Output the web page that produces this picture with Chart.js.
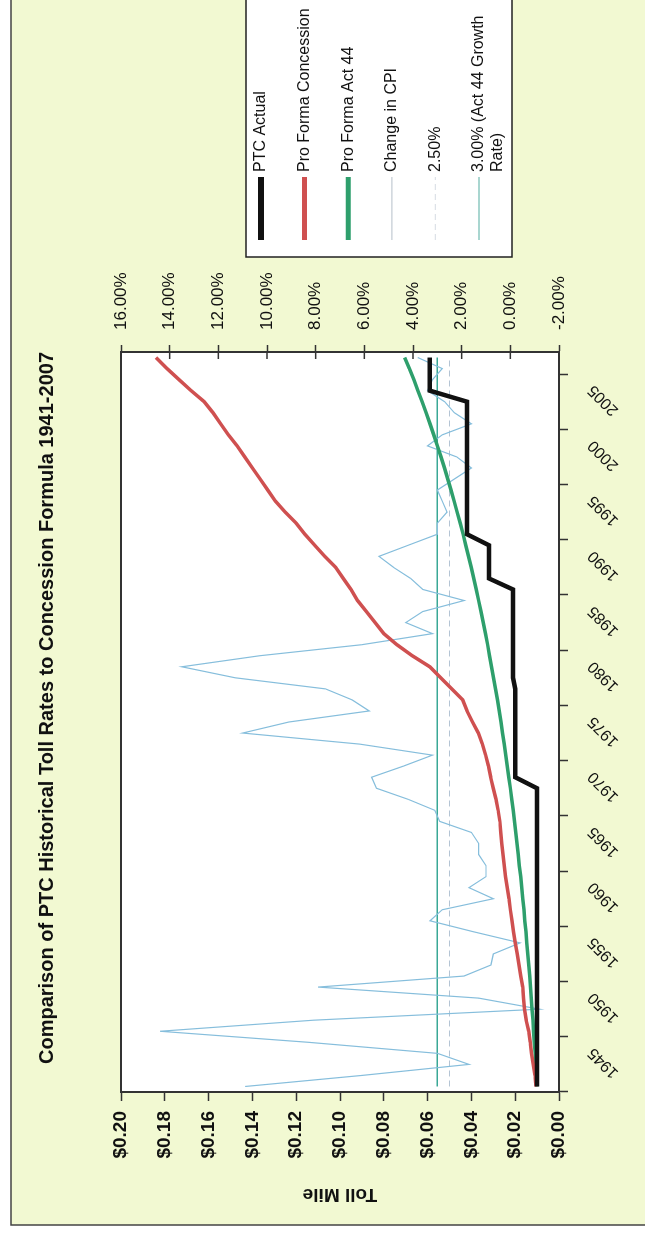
<!DOCTYPE html>
<html>
<head>
<meta charset="utf-8">
<script src="https://cdn.jsdelivr.net/npm/chart.js@4.4.1/dist/chart.umd.min.js"></script>
<style>
  html, body { margin: 0; padding: 0; background: #fff; overflow: hidden; }
  /* the scanned chart is turned on its side, so draw it landscape and rotate */
  #stage {
    position: absolute; left: 0; top: 0;
    width: 1235px; height: 645px;
    transform-origin: 0 0;
    transform: translateY(1235px) rotate(-90deg);
  }
</style>
</head>
<body>
<div id="stage"><canvas id="chart" width="1235" height="645"></canvas></div>
<script>
const years = Array.from({ length: 67 }, (_, i) => 1941 + i); // 1941..2007

// $ per toll mile
const ptcActual = [
  0.010, 0.010, 0.010, 0.010, 0.010, 0.010, 0.010, 0.010, 0.010, 0.010,
  0.010, 0.010, 0.010, 0.010, 0.010, 0.010, 0.010, 0.010, 0.010, 0.010,
  0.010, 0.010, 0.010, 0.010, 0.010, 0.010, 0.010, 0.010, 0.020, 0.020,
  0.020, 0.020, 0.020, 0.020, 0.020, 0.020, 0.020, 0.021, 0.021, 0.021,
  0.021, 0.021, 0.021, 0.021, 0.021, 0.021, 0.032, 0.032, 0.032, 0.032,
  0.042, 0.042, 0.042, 0.042, 0.042, 0.042, 0.042, 0.042, 0.042, 0.042,
  0.042, 0.042, 0.042, 0.059, 0.059, 0.059, 0.059
];
const proFormaConcession = [
  0.0105, 0.0110, 0.0118, 0.0126, 0.0131, 0.0138, 0.0150, 0.0158, 0.0162, 0.0166,
  0.0175, 0.0183, 0.0191, 0.0200, 0.0208, 0.0215, 0.0222, 0.0228, 0.0236, 0.0244,
  0.0250, 0.0256, 0.0261, 0.0266, 0.0270, 0.0278, 0.0288, 0.0300, 0.0312, 0.0322,
  0.0335, 0.0350, 0.0368, 0.0395, 0.0420, 0.0440, 0.0490, 0.0540, 0.0590, 0.0670,
  0.0740, 0.0800, 0.0840, 0.0880, 0.0920, 0.0950, 0.0985, 0.1020, 0.1070, 0.1115,
  0.1160, 0.1200, 0.1250, 0.1295, 0.1330, 0.1365, 0.1400, 0.1435, 0.1470, 0.1510,
  0.1545, 0.1580, 0.1620, 0.1680, 0.1735, 0.1790, 0.1840
];
const proFormaAct44 = [
  0.0100, 0.0103, 0.0106, 0.0109, 0.0113, 0.0116, 0.0119, 0.0123, 0.0127, 0.0130,
  0.0134, 0.0138, 0.0143, 0.0147, 0.0151, 0.0156, 0.0160, 0.0165, 0.0170, 0.0175,
  0.0181, 0.0186, 0.0192, 0.0197, 0.0203, 0.0209, 0.0216, 0.0222, 0.0229, 0.0236,
  0.0243, 0.0250, 0.0258, 0.0265, 0.0273, 0.0281, 0.0290, 0.0299, 0.0308, 0.0317,
  0.0326, 0.0336, 0.0346, 0.0356, 0.0367, 0.0378, 0.0389, 0.0401, 0.0413, 0.0426,
  0.0438, 0.0451, 0.0465, 0.0479, 0.0493, 0.0508, 0.0523, 0.0539, 0.0555, 0.0572,
  0.0589, 0.0607, 0.0625, 0.0644, 0.0663, 0.0683, 0.0705
];

// % (right axis)
const changeInCpi = [
  10.9, 6.1, 1.7, 3.0, 8.3, 14.4, 8.1, -1.2, 1.3, 7.9,
  1.9, 0.8, 0.7, -0.4, 1.5, 3.3, 2.8, 0.7, 1.7, 1.0,
  1.0, 1.3, 1.3, 1.6, 2.9, 3.1, 4.2, 5.5, 5.7, 4.4,
  3.2, 6.2, 11.0, 9.1, 5.8, 6.5, 7.6, 11.3, 13.5, 10.3,
  6.1, 3.2, 4.3, 3.6, 1.9, 3.6, 4.1, 4.8, 5.4, 4.2,
  3.0, 3.0, 2.6, 2.8, 3.0, 2.3, 1.6, 2.2, 3.4, 2.8,
  1.6, 2.3, 2.7, 3.4, 3.2, 2.8, 3.8
];
const cpiBand = 2.5;
const act44Growth = 3.0;

const BG = '#f2f9d2';
const INK = '#111';
const AXIS = '#333';
const FONT = "'Liberation Sans', Arial, sans-serif";

const backdrop = {
  id: 'backdrop',
  beforeDraw(chart) {
    const { ctx, width, height, chartArea: a } = chart;
    ctx.save();
    ctx.fillStyle = '#fff';
    ctx.fillRect(0, 0, width, height);
    ctx.fillStyle = BG;
    ctx.fillRect(10, 11, width, height);
    ctx.strokeStyle = '#444';
    ctx.lineWidth = 1.5;
    ctx.beginPath();
    ctx.moveTo(10, height);
    ctx.lineTo(10, 11);
    ctx.lineTo(width, 11);
    ctx.stroke();
    ctx.fillStyle = '#fff';
    ctx.fillRect(a.left, a.top, a.right - a.left, a.bottom - a.top);
    ctx.restore();
  },
  beforeDatasetsDraw(chart) {
    const { ctx, chartArea: a } = chart;
    const pct = chart.scales.y1;
    ctx.save();
    ctx.strokeStyle = AXIS;
    ctx.lineWidth = 2;
    ctx.beginPath();
    ctx.moveTo(a.left, a.top);
    ctx.lineTo(a.right, a.top);
    ctx.stroke();
    // the % axis ticks cross the axis line
    ctx.lineWidth = 1.5;
    pct.ticks.forEach(t => {
      const y = pct.getPixelForValue(t.value);
      ctx.beginPath();
      ctx.moveTo(a.right - 7, y);
      ctx.lineTo(a.right, y);
      ctx.stroke();
    });
    ctx.restore();
  }
};

// boxed legend at the right, labels wrapped like the original
const boxLegend = {
  id: 'boxLegend',
  afterDraw(chart) {
    const { ctx } = chart;
    const left = 978, top = 246, bottom = 512;
    ctx.save();
    ctx.fillStyle = '#fff';
    ctx.fillRect(left, top, 400, bottom - top);
    ctx.strokeStyle = '#222';
    ctx.lineWidth = 1.5;
    ctx.strokeRect(left, top, 400, bottom - top);
    ctx.font = '16px ' + FONT;
    ctx.textBaseline = 'middle';
    chart.data.datasets.forEach((ds, i) => {
      const y = top + 15 + i * 43.6;
      ctx.strokeStyle = ds.legendColor || ds.borderColor;
      ctx.lineWidth = ds.legendWidth || ds.borderWidth;
      ctx.setLineDash(ds.borderDash || []);
      ctx.beginPath();
      ctx.moveTo(left + 17, y);
      ctx.lineTo(left + 80, y);
      ctx.stroke();
      ctx.setLineDash([]);
      ctx.fillStyle = INK;
      const words = ds.label.split(' ');
      const lines = [];
      let cur = '';
      words.forEach(w => {
        const t = cur ? cur + ' ' + w : w;
        if (cur && ctx.measureText(t).width > 172) { lines.push(cur); cur = w; } else { cur = t; }
      });
      lines.push(cur);
      lines.forEach((ln, k) => ctx.fillText(ln, left + 85, y + k * 19));
    });
    ctx.restore();
  }
};

const line = (label, data, color, width, axis, extra) => Object.assign({
  label, data, borderColor: color, backgroundColor: color, borderWidth: width,
  yAxisID: axis, pointRadius: 0, tension: 0, fill: false
}, extra || {});

new Chart(document.getElementById('chart'), {
  type: 'line',
  data: {
    labels: years,
    datasets: [
      line('PTC Actual', ptcActual, '#111', 4.5, 'y', { legendWidth: 6 }),
      line('Pro Forma Concession', proFormaConcession, '#cf5050', 3.5, 'y', { legendWidth: 5 }),
      line('Pro Forma Act 44', proFormaAct44, '#2e9f6c', 3.5, 'y', { legendWidth: 5 }),
      line('Change in CPI', changeInCpi, '#86bedc', 1.2, 'y1', { legendColor: '#c4ccd4' }),
      line('2.50%', years.map(() => cpiBand), '#b4c4d4', 1.2, 'y1', { borderDash: [6, 4], legendColor: '#dde2e8' }),
      line('3.00% (Act 44 Growth Rate)', years.map(() => act44Growth), '#3aa896', 1.5, 'y1', { legendColor: '#8cc8c0' })
    ]
  },
  options: {
    responsive: false,
    animation: false,
    events: [],
    layout: { padding: { left: 25, right: 206, top: 11, bottom: 0 } },
    plugins: {
      legend: { display: false },
      tooltip: { enabled: false },
      title: {
        display: true,
        text: 'Comparison of PTC Historical Toll Rates to Concession Formula 1941-2007',
        color: INK,
        font: { family: FONT, size: 20, weight: 'bold' },
        padding: { top: 24, bottom: 62 }
      }
    },
    scales: {
      x: {
        type: 'category',
        offset: true,
        grid: {
          offset: true,
          drawOnChartArea: false,
          tickLength: 9,
          tickWidth: 1.5,
          tickColor: c => (c.index % 5 === 0 ? AXIS : 'rgba(0,0,0,0)')
        },
        border: { color: AXIS, width: 2 },
        ticks: {
          autoSkip: false,
          minRotation: 45,
          maxRotation: 45,
          padding: 16,
          labelOffset: -8,
          color: INK,
          font: { family: FONT, size: 16 },
          callback: (v, i) => (years[i] % 5 === 0 ? String(years[i]) : '')
        },
        afterFit: s => { s.height = 86; }
      },
      y: {
        position: 'left',
        min: 0,
        max: 0.2,
        grid: { drawOnChartArea: false, tickLength: 9, tickWidth: 1.5, tickColor: AXIS },
        border: { color: AXIS, width: 2 },
        ticks: {
          stepSize: 0.02,
          padding: 10,
          color: INK,
          font: { family: FONT, size: 19, weight: 'bold' },
          callback: v => '$' + v.toFixed(2)
        },
        title: {
          display: true,
          text: 'Toll Mile',
          color: INK,
          font: { family: FONT, size: 19, weight: 'bold' },
          padding: { top: 4, bottom: 4 }
        },
        afterFit: s => { s.width = 118; }
      },
      y1: {
        position: 'right',
        min: -2,
        max: 16,
        grid: { drawOnChartArea: false, tickLength: 7, tickWidth: 1.5, tickColor: AXIS },
        border: { color: AXIS, width: 2 },
        ticks: {
          stepSize: 2,
          padding: 15,
          color: INK,
          font: { family: FONT, size: 17 },
          callback: v => v.toFixed(2) + '%'
        },
        afterFit: s => { s.width = 146; }
      }
    }
  },
  plugins: [backdrop, boxLegend]
});
</script>
</body>
</html>
